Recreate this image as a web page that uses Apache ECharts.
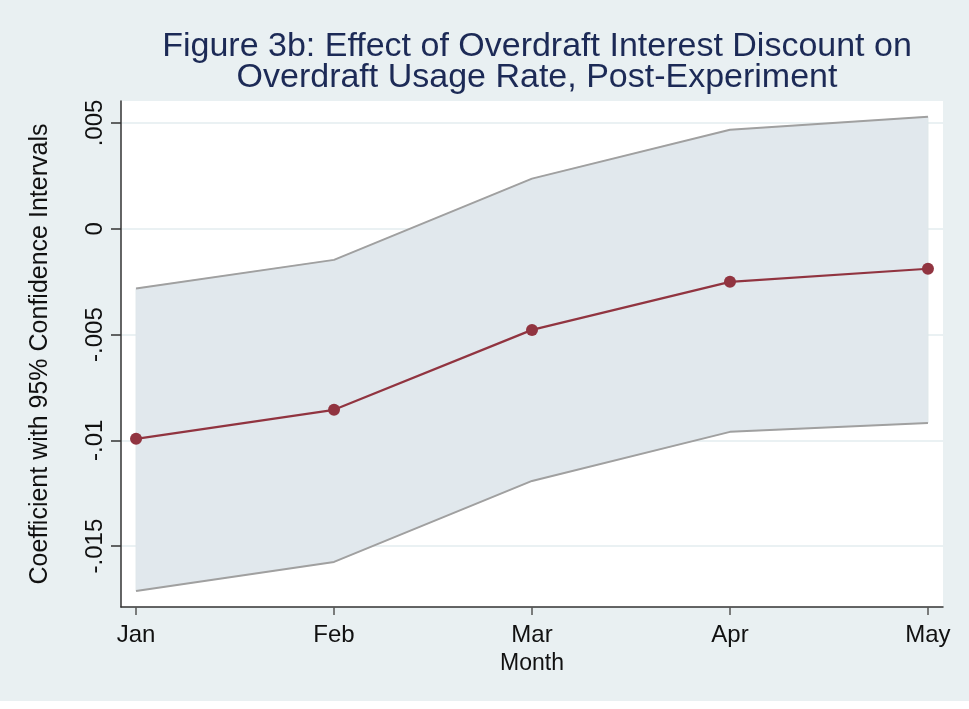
<!DOCTYPE html>
<html>
<head>
<meta charset="utf-8">
<script src="https://cdn.jsdelivr.net/npm/echarts@6/dist/echarts.min.js"></script>
<style>
html,body{margin:0;padding:0;background:#fff;}
#chart{width:969px;height:709px;}
</style>
</head>
<body>
<div id="chart"></div>
<script>
const months = ['Jan', 'Feb', 'Mar', 'Apr', 'May'];
const coef  = [-0.00993, -0.00856, -0.00478, -0.00251, -0.00189];
const upper = [-0.00282, -0.00147, 0.00237, 0.00468, 0.00530];
const lower = [-0.01712, -0.01575, -0.01192, -0.00960, -0.00918];
const yTicks = [-0.015, -0.01, -0.005, 0, 0.005];
const yTickLabels = ['-.015', '-.01', '-.005', '0', '.005'];

const chart = echarts.init(document.getElementById('chart'));
const idx = months.map((m, i) => i);
const font = 'Liberation Sans, Arial, sans-serif';

const option = {
  backgroundColor: '#e9f0f2',
  animation: false,
  title: {
    text: 'Figure 3b: Effect of Overdraft Interest Discount on\nOverdraft Usage Rate, Post-Experiment',
    left: 532, top: 26, textAlign: 'center',
    textStyle: { fontFamily: font, fontSize: 34, fontWeight: 'normal', color: '#1c2a56', lineHeight: 31 }
  },
  grid: { left: 121, right: 26, top: 101, bottom: 102, show: true, backgroundColor: '#ffffff', borderWidth: 0 },
  xAxis: {
    type: 'value', min: -0.076, max: 4.076,
    name: 'Month', nameLocation: 'middle', nameGap: 39,
    nameTextStyle: { fontFamily: font, fontSize: 23, color: '#111' },
    axisLine: { show: true, onZero: false, lineStyle: { color: '#333', width: 1.5 } },
    axisTick: { show: true, length: 8, customValues: idx, lineStyle: { color: '#555', width: 1.5 } },
    axisLabel: { customValues: idx, formatter: v => months[Math.round(v)], fontFamily: font, fontSize: 24, color: '#111', margin: 16 },
    splitLine: { show: false }
  },
  yAxis: {
    type: 'value', min: -0.01788, max: 0.00604,
    name: 'Coefficient with 95% Confidence Intervals', nameLocation: 'middle', nameGap: 68,
    nameTextStyle: { fontFamily: font, fontSize: 25, color: '#111' },
    axisLine: { show: true, onZero: false, lineStyle: { color: '#333', width: 1.5 } },
    axisTick: { show: true, length: 10, customValues: yTicks, lineStyle: { color: '#333', width: 1.5 } },
    axisLabel: {
      customValues: yTicks, rotate: 90, margin: 14,
      formatter: v => { const k = yTicks.findIndex(t => Math.abs(t - v) < 1e-9); return k >= 0 ? yTickLabels[k] : ''; },
      fontFamily: font, fontSize: 24, color: '#111'
    },
    splitLine: { show: true, lineStyle: { color: '#eaf1f3', width: 2 } }
  },
  series: [
    {
      type: 'custom', z: 1, silent: true,
      data: [[0]],
      renderItem: (params, api) => {
        const pts = [];
        idx.forEach(i => pts.push(api.coord([i, lower[i]])));
        idx.slice().reverse().forEach(i => pts.push(api.coord([i, upper[i]])));
        return { type: 'polygon', shape: { points: pts }, style: { fill: '#e1e8ed', stroke: '#dfe7ea', lineWidth: 1 } };
      }
    },
    {
      type: 'line', symbol: 'none', z: 2,
      data: idx.map(i => [i, lower[i]]),
      lineStyle: { color: '#a0a0a0', width: 2 }
    },
    {
      type: 'line', symbol: 'none', z: 2,
      data: idx.map(i => [i, upper[i]]),
      lineStyle: { color: '#a0a0a0', width: 2 }
    },
    {
      type: 'line', symbol: 'circle', symbolSize: 12, z: 5,
      data: idx.map(i => [i, coef[i]]),
      lineStyle: { color: '#913440', width: 2.2 },
      itemStyle: { color: '#913440' }
    }
  ],
  graphic: [
    { type: 'rect', shape: { x: 0, y: 701, width: 969, height: 8 }, style: { fill: '#ffffff' }, z: 100 }
  ]
};
chart.setOption(option);
</script>
</body>
</html>
